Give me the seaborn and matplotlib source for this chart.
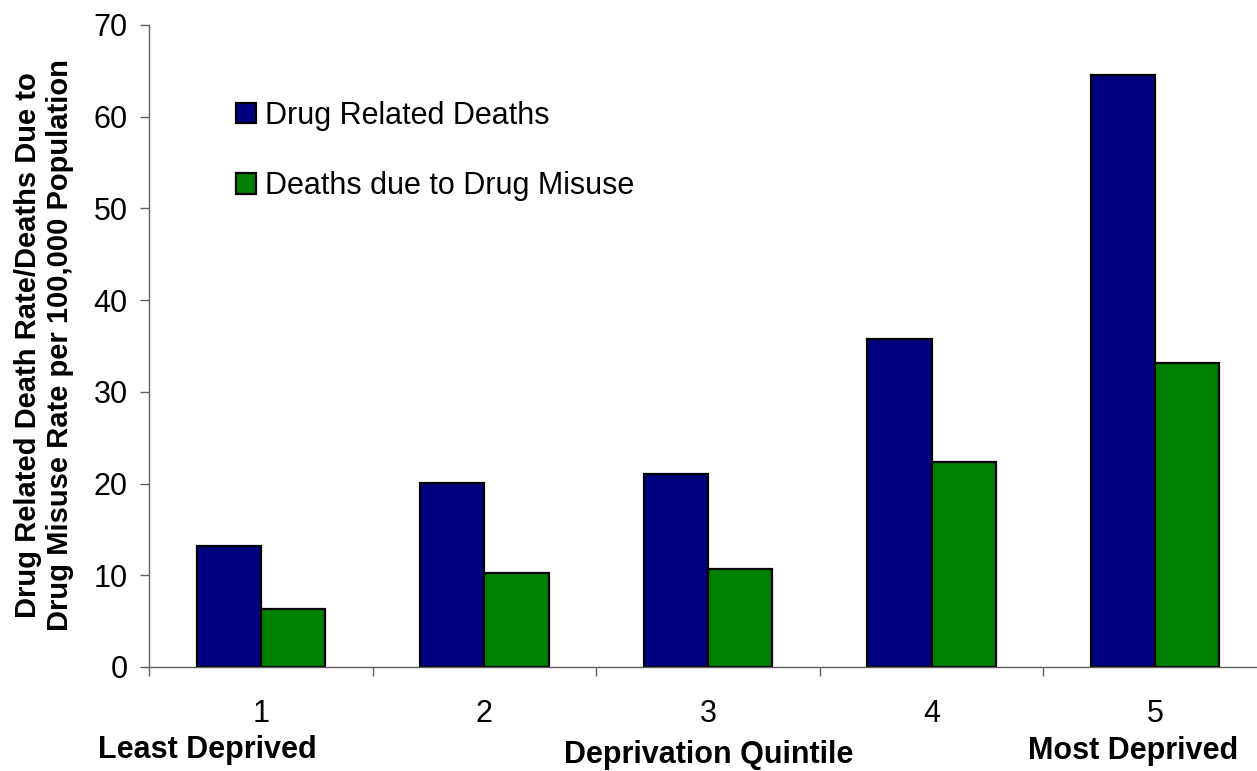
import matplotlib
matplotlib.use("Agg")
import matplotlib.pyplot as plt
from matplotlib.patches import Patch
import seaborn as sns
import pandas as pd
import numpy as np

# Deprivation quintiles and rates per 100,000 population
quintiles = ["1", "2", "3", "4", "5"]
series_names = ["Drug Related Deaths", "Deaths due to Drug Misuse"]
drug_related = [13.2, 20.1, 21.0, 35.8, 64.6]
drug_misuse = [6.3, 10.3, 10.7, 22.4, 33.2]
colors = ["#000080", "#008000"]

df = pd.DataFrame({
    "quintile": quintiles * 2,
    "series": [series_names[0]] * len(quintiles) + [series_names[1]] * len(quintiles),
    "value": drug_related + drug_misuse,
})

sns.set_theme(style="white")
plt.rcParams["font.family"] = ["Liberation Sans", "DejaVu Sans"]
plt.rcParams["text.color"] = "black"
plt.rcParams["axes.labelcolor"] = "black"
plt.rcParams["xtick.color"] = "black"
plt.rcParams["ytick.color"] = "black"

W, H = 1257, 771
fig = plt.figure(figsize=(W / 100, H / 100), dpi=100)
# axes box in pixels: left 149, right 1267, top 25, bottom 667
ax = fig.add_axes([149 / W, 1 - 667 / H, (1267 - 149) / W, (667 - 25) / H])

sns.barplot(data=df, x="quintile", y="value", hue="series", palette=colors,
            width=0.575, edgecolor="black", linewidth=1.6, saturation=1,
            ax=ax, legend=False)

ax.set_xlim(-0.5, 4.5)
ax.set_ylim(0, 70)
ax.set_yticks(np.arange(0, 71, 10))

for s in ["top", "right"]:
    ax.spines[s].set_visible(False)
for s in ["left", "bottom"]:
    ax.spines[s].set_color("#606060")
    ax.spines[s].set_linewidth(1.0)

ax.tick_params(axis="y", which="major", direction="out", length=6.5, width=1.0,
               color="#606060", labelcolor="black", labelsize=22, pad=9, left=True)
ax.tick_params(axis="x", which="major", length=0, labelsize=22, pad=23,
               labelcolor="black")
ax.set_xticks(np.arange(-0.5, 5, 1.0), minor=True)
ax.tick_params(axis="x", which="minor", direction="out", length=6.5, width=1.0,
               color="#606060", bottom=True)

ax.set_xlabel("Deprivation Quintile", fontsize=22, fontweight="bold")
ax.xaxis.set_label_coords((709 - 149) / (1267 - 149), (667 - 755) / (667 - 25))
ax.xaxis.label.set_va("center")

ax.set_ylabel("Drug Related Death Rate/Deaths Due to\nDrug Misuse Rate per 100,000 Population",
              fontsize=21, fontweight="bold", linespacing=1.15)
ax.yaxis.set_label_coords((44 - 149) / (1267 - 149), (667 - 345) / (667 - 25))
ax.yaxis.label.set_va("center")

fig.text(207 / W, 1 - 750 / H, "Least Deprived", fontsize=22, fontweight="bold",
         ha="center", va="center")
fig.text(1133 / W, 1 - 751 / H, "Most Deprived", fontsize=22, fontweight="bold",
         ha="center", va="center")

handles = [Patch(facecolor=c, edgecolor="black", linewidth=1.6) for c in colors]
ax.legend(handles, series_names, loc="upper left",
          bbox_to_anchor=((236 - 149) / (1267 - 149), (667 - 101) / (667 - 25)),
          frameon=False, fontsize=22, handlelength=0.65, handleheight=0.65,
          handletextpad=0.3, labelspacing=1.32, borderaxespad=0, borderpad=0)

fig.savefig("out.png", dpi=100)
